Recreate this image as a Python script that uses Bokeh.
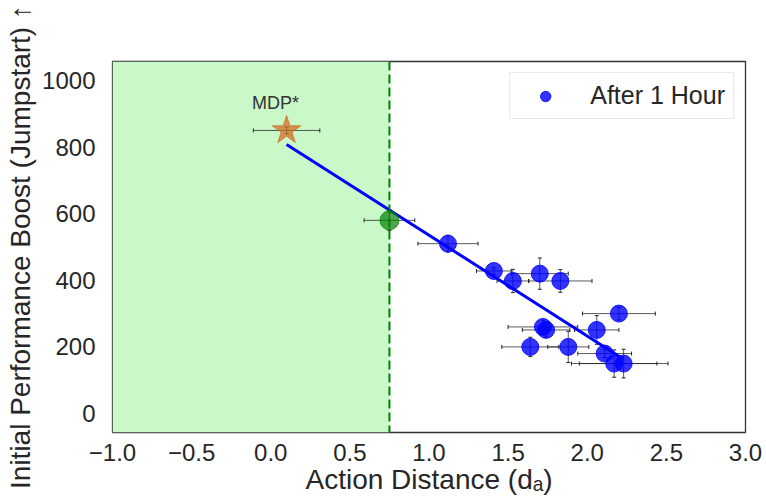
from bokeh.plotting import figure
from bokeh.models import (ColumnDataSource, Whisker, TeeHead, BoxAnnotation, Span,
                          Legend, LegendItem, FixedTicker, Label)
from bokeh.embed import file_html
from bokeh.resources import INLINE

# ---- data ----
run_x = [1.12, 1.41, 1.53, 1.70, 1.83, 2.20, 2.06, 1.72, 1.74, 1.64, 1.88, 2.11, 2.17, 2.23]
run_y = [510, 428, 398, 420, 398, 300, 251, 260, 251, 200, 200, 180, 150, 150]
run_xerr = [0.19, 0.11, 0.10, 0.18, 0.20, 0.23, 0.14, 0.22, 0.15, 0.18, 0.13, 0.17, 0.27, 0.28]
run_yerr = [25, 10, 35, 47, 34, 19, 43, 20, 21, 29, 47, 12, 41, 43]

mdp_x = [0.10]
mdp_y = [850]
mdp_xerr = [0.21]
mdp_yerr = [10]

thr_x = [0.75]
thr_y = [580]
thr_xerr = [0.16]
thr_yerr = [30]

threshold = 0.75

fit_x = [0.10, 2.23]
fit_y = [808, 163]

mdp_label_x = 0.03
mdp_label_y = 933

x_ticks = [-1.0, -0.5, 0.0, 0.5, 1.0, 1.5, 2.0, 2.5, 3.0]
x_tick_labels = ["\u22121.0", "\u22120.5", "0.0", "0.5", "1.0", "1.5", "2.0", "2.5", "3.0"]
y_ticks = [0, 200, 400, 600, 800, 1000]
y_tick_labels = ["0", "200", "400", "600", "800", "1000"]

FONT = "Liberation Sans"
TXT = "#262626"

p = figure(width=766, height=497, x_range=(-1.0, 3.0), y_range=(-57, 1057),
           output_backend="svg", toolbar_location=None,
           min_border_left=112, min_border_right=21, min_border_top=61, min_border_bottom=65)
p.xgrid.visible = False
p.ygrid.visible = False
p.outline_line_color = "#333333"
p.outline_line_width = 1.3
p.background_fill_color = "white"
p.border_fill_color = "white"

# shaded region + threshold line
p.add_layout(BoxAnnotation(right=threshold, fill_color="#c9f8c9", fill_alpha=1.0,
                           line_alpha=0, level="underlay"))
p.add_layout(Span(location=threshold, dimension="height", line_color="green",
                  line_width=2, line_dash="9 4"))

def add_err(xs, ys, xe, ye):
    src = ColumnDataSource(dict(
        x=xs, y=ys,
        xl=[a - b for a, b in zip(xs, xe)], xu=[a + b for a, b in zip(xs, xe)],
        yl=[a - b for a, b in zip(ys, ye)], yu=[a + b for a, b in zip(ys, ye)]))
    for dim, base, lo, up in (("width", "y", "xl", "xu"), ("height", "x", "yl", "yu")):
        w = Whisker(source=src, base=base, lower=lo, upper=up, dimension=dim,
                    line_color="#222222", line_alpha=0.75, line_width=1,
                    lower_head=TeeHead(size=4, line_color="#222222", line_width=1),
                    upper_head=TeeHead(size=4, line_color="#222222", line_width=1))
        p.add_layout(w)

add_err(mdp_x, mdp_y, mdp_xerr, mdp_yerr)
add_err(thr_x, thr_y, thr_xerr, thr_yerr)
add_err(run_x, run_y, run_xerr, run_yerr)

# fit line
p.line(fit_x, fit_y, line_color="blue", line_width=3)

# points
p.scatter(mdp_x, mdp_y, marker="star", size=30, fill_color="#d2691e", fill_alpha=0.72,
          line_color="#d2691e", line_alpha=0.72)
p.scatter(thr_x, thr_y, marker="circle", size=19, fill_color="green", fill_alpha=0.7,
          line_color="green", line_alpha=0.7)
p.scatter(run_x, run_y, marker="circle", size=17, fill_color="blue", fill_alpha=0.8,
          line_color="blue", line_alpha=0.8)
# legend proxy (smaller marker as in the reference legend); hidden on the plot
legend_proxy = p.scatter(run_x, run_y, marker="circle", size=11, fill_color="blue",
                         fill_alpha=0.8, line_color="blue", line_alpha=0.8, visible=False)

p.add_layout(Label(x=mdp_label_x, y=mdp_label_y, text="MDP*", text_align="center",
                   text_baseline="middle", text_font=FONT, text_font_size="18px",
                   text_color="#333333"))

# axes
p.xaxis.ticker = FixedTicker(ticks=x_ticks)
p.xaxis.major_label_overrides = dict(zip(x_ticks, x_tick_labels))
p.yaxis.ticker = FixedTicker(ticks=y_ticks)
p.yaxis.major_label_overrides = dict(zip(y_ticks, y_tick_labels))
for ax in (p.xaxis, p.yaxis):
    ax.axis_line_color = None
    ax.major_tick_line_color = None
    ax.minor_tick_line_color = None
    ax.major_label_text_font = FONT
    ax.major_label_text_font_size = "24px"
    ax.major_label_text_color = TXT
    ax.axis_label_text_font = FONT
    ax.axis_label_text_font_size = "28px"
    ax.axis_label_text_font_style = "normal"
    ax.axis_label_text_color = TXT
p.xaxis.axis_label = "Action Distance (d\u2090)"
p.yaxis.axis_label = "Initial Performance Boost (Jumpstart) \u2191"
p.xaxis.major_label_standoff = 5
p.xaxis.axis_label_standoff = 0
p.yaxis.major_label_standoff = 11
p.yaxis.axis_label_standoff = 3

legend = Legend(items=[LegendItem(label="After 1 Hour", renderers=[legend_proxy])],
                location="top_right", margin=11, padding=8, glyph_width=54, glyph_height=26,
                label_standoff=18, label_text_font=FONT, label_text_font_size="25px",
                label_text_color=TXT, border_line_color="#d0d0d0", border_line_width=1,
                background_fill_color="white", background_fill_alpha=1.0)
p.add_layout(legend)

open("out.html", "w").write(file_html(p, INLINE))
